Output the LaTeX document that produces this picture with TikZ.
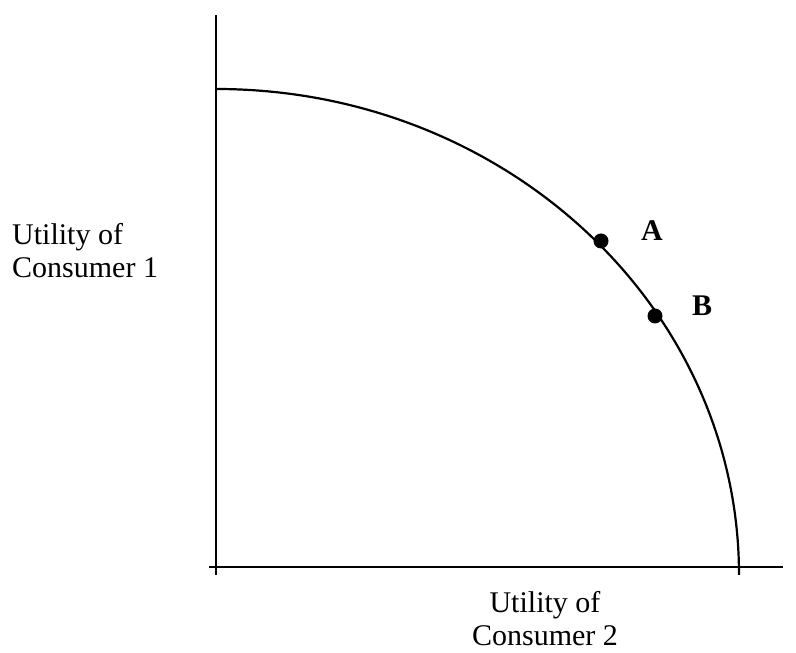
\documentclass[tikz,border=0pt]{standalone}
\usepackage{fontspec}
\setmainfont{Liberation Serif}
\begin{document}
\begin{tikzpicture}[x=1pt,y=1pt,
  axis/.style={line width=2.2pt},
  frontier/.style={line width=2.2pt},
  pt/.style={circle,fill=black,inner sep=0pt,minimum size=15pt},
  lbl/.style={inner sep=0pt,font=\fontsize{30}{33}\selectfont},
  ptlbl/.style={inner sep=0pt,font=\fontsize{30}{33}\selectfont\bfseries}]
\useasboundingbox (0,0) rectangle (796,653);
\fill[white] (0,0) rectangle (796,653);
\coordinate (ytop) at (216,638);
\coordinate (ybot) at (216,78);
\coordinate (xl) at (209,86);
\coordinate (xr) at (783,86);
\draw[axis] (ybot) -- (ytop);
\draw[axis] (xl) -- (xr);
\coordinate (cstart) at (216,564);
\draw[frontier] (cstart) arc[start angle=90,end angle=0,x radius=523,y radius=486];
\node[pt] (A) at (601,412) {};
\node[pt] (B) at (655,337) {};
\node[ptlbl] (la) at (652,422) {A};
\node[ptlbl] (lb) at (702,347) {B};
\node[lbl,align=left,anchor=west] (u1) at (12,402) {Utility of\\Consumer 1};
\node[lbl,align=center] (u2) at (545,34) {Utility of\\Consumer 2};
\end{tikzpicture}
\end{document}
